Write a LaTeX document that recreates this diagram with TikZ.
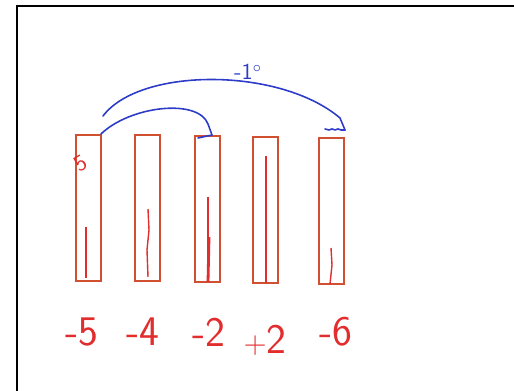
\documentclass[tikz,border=0pt]{standalone}
\usepackage{tikz}
\usetikzlibrary{arrows.meta,positioning}
\definecolor{barred}{RGB}{210,80,50}
\definecolor{inkred}{RGB}{225,45,45}
\definecolor{inkblue}{RGB}{45,60,200}

\begin{document}
\begin{tikzpicture}[
  x=0.02cm, y=-0.02cm,
  bar/.style={draw=barred, line width=1pt, minimum width=0.5cm,
              minimum height=2.92cm, inner sep=0pt},
  level/.style={draw=inkred, line width=0.8pt},
  temp/.style={text=inkred, font=\sffamily\fontsize{24}{26}\selectfont,
               inner sep=0pt},
  jump/.style={draw=inkblue, line width=0.9pt, line cap=round,
               line join=round},
  lbl/.style={text=inkblue, font=\sffamily\fontsize{13}{14}\selectfont,
              inner sep=0pt}
]
  \useasboundingbox (0,0) rectangle (514,391);
  % frame
  \draw[line width=1.2pt] (17,391) -- (17,6) -- (514,6);

  % thermometers
  \node[bar] (b1) at (88.5,208)  {};
  \node[bar] (b2) at (147.5,208) {};
  \node[bar] (b3) at (207.5,209) {};
  \node[bar] (b4) at (265.5,210) {};
  \node[bar] (b5) at (331.5,211) {};

  % levels
  \draw[level] (86,278)  -- (86,227);
  \draw[level] (148,277) -- (147,250) -- (149,230) -- (148,209);
  \draw[level] (208,282) -- (208,197);
  \draw[level, line width=1.6pt] (208,282) -- (209,237);
  \draw[level] (266,283) -- (266,156);
  \draw[level] (330,284) -- (332,265) -- (331,248);
  \node[text=inkred, font=\sffamily\fontsize{13}{13}\selectfont, rotate=30,
        inner sep=0pt] (five) at (81,163) {5};

  % readings
  \node[temp] (t1) at (82,332)  {-5};
  \node[temp] (t2) at (143,332) {-4};
  \node[temp] (t3) at (209,332) {-2};
  \node[temp] (t4) at (265,340) {{\fontsize{18}{20}\selectfont+}2};
  \node[temp] (t5) at (336,332) {-6};

  % jumps
  \coordinate (s1) at (101,134);
  \coordinate (e1) at (212,135);
  \draw[jump] (s1) .. controls (130,106) and (198,98) .. (208,124) -- (e1);
  \draw[jump] (198,138) -- (e1);

  \coordinate (s2) at (103,116);
  \coordinate (e2) at (345,130);
  \draw[jump] (s2) .. controls (140,67) and (280,67) .. (340,118) -- (e2);
  \draw[jump] (e2) -- (341,130) -- (338,129) -- (335,130) -- (332,129)
        -- (329,130) -- (325,129);
  \node[lbl] (d) at (248,72) {-1$^{\circ}$};
\end{tikzpicture}
\end{document}
